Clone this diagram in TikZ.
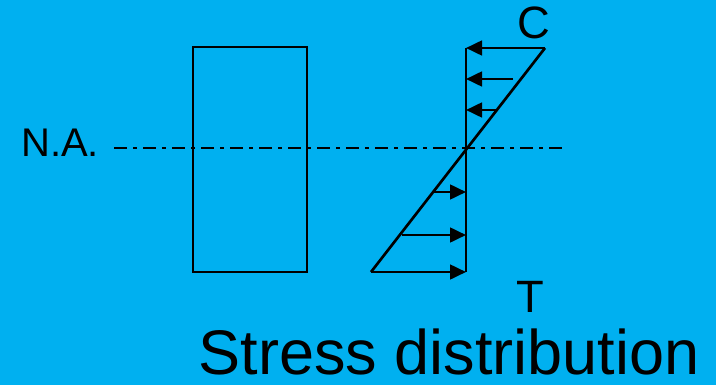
\documentclass[tikz,border=0pt]{standalone}
\usepackage{fontspec}
\setmainfont{Liberation Sans}
\usetikzlibrary{arrows.meta,calc}
\definecolor{slidebg}{HTML}{00B0F0}

\begin{document}
\begin{tikzpicture}[
  x=0.75pt, y=-0.75pt,
  lbl/.style={inner sep=0pt, font=\fontsize{34}{36}\selectfont},
  section/.style={draw, line width=1.5pt},
  axisline/.style={line width=2pt, dash pattern=on 9.75pt off 4.5pt on 3pt off 4.5pt},
  prof/.style={line width=2pt},
  force/.style={-{Triangle[length=12pt,width=11pt]}, line width=2pt},
]
  % --- background ---
  \fill[slidebg] (0,0) rectangle (716,385);
  % --- cross section ---
  \coordinate (secnw) at (193,47);
  \coordinate (secse) at (307,272);
  \draw[section] (secnw) rectangle (secse);
  % --- neutral axis ---
  \coordinate (naL) at (114,148);
  \coordinate (naR) at (563,148);
  \draw[axisline] (naL) -- (naR);
  \node[lbl, anchor=base west, font=\fontsize{30}{32}\selectfont] (na) at (21,156) {N.A.};
  % --- stress profile ---
  \coordinate (top) at (466,48);
  \coordinate (bot) at (466,272);
  \coordinate (cpk) at (545,48);
  \coordinate (tpk) at (371,272);
  \draw[prof] (top) -- (bot);
  \draw[prof] (cpk) -- (tpk);
  % compression arrows
  \draw[force] (cpk) -- (top);
  \foreach \xs/\ys in {513/79, 497/110}
    \draw[force] (\xs,\ys) -- (top |- 0,\ys);
  % tension arrows
  \foreach \xs/\ys in {433/192, 402/235}
    \draw[force] (\xs,\ys) -- (top |- 0,\ys);
  \draw[force] (tpk) -- (bot);
  % --- labels ---
  \node[lbl, anchor=base] (cl) at (534,39) {C};
  \node[lbl, anchor=base] (tl) at (530,312) {T};
  \node[lbl, anchor=base, font=\fontsize{47.25}{50}\selectfont] (title) at (449,374) {Stress distribution};
\end{tikzpicture}
\end{document}
